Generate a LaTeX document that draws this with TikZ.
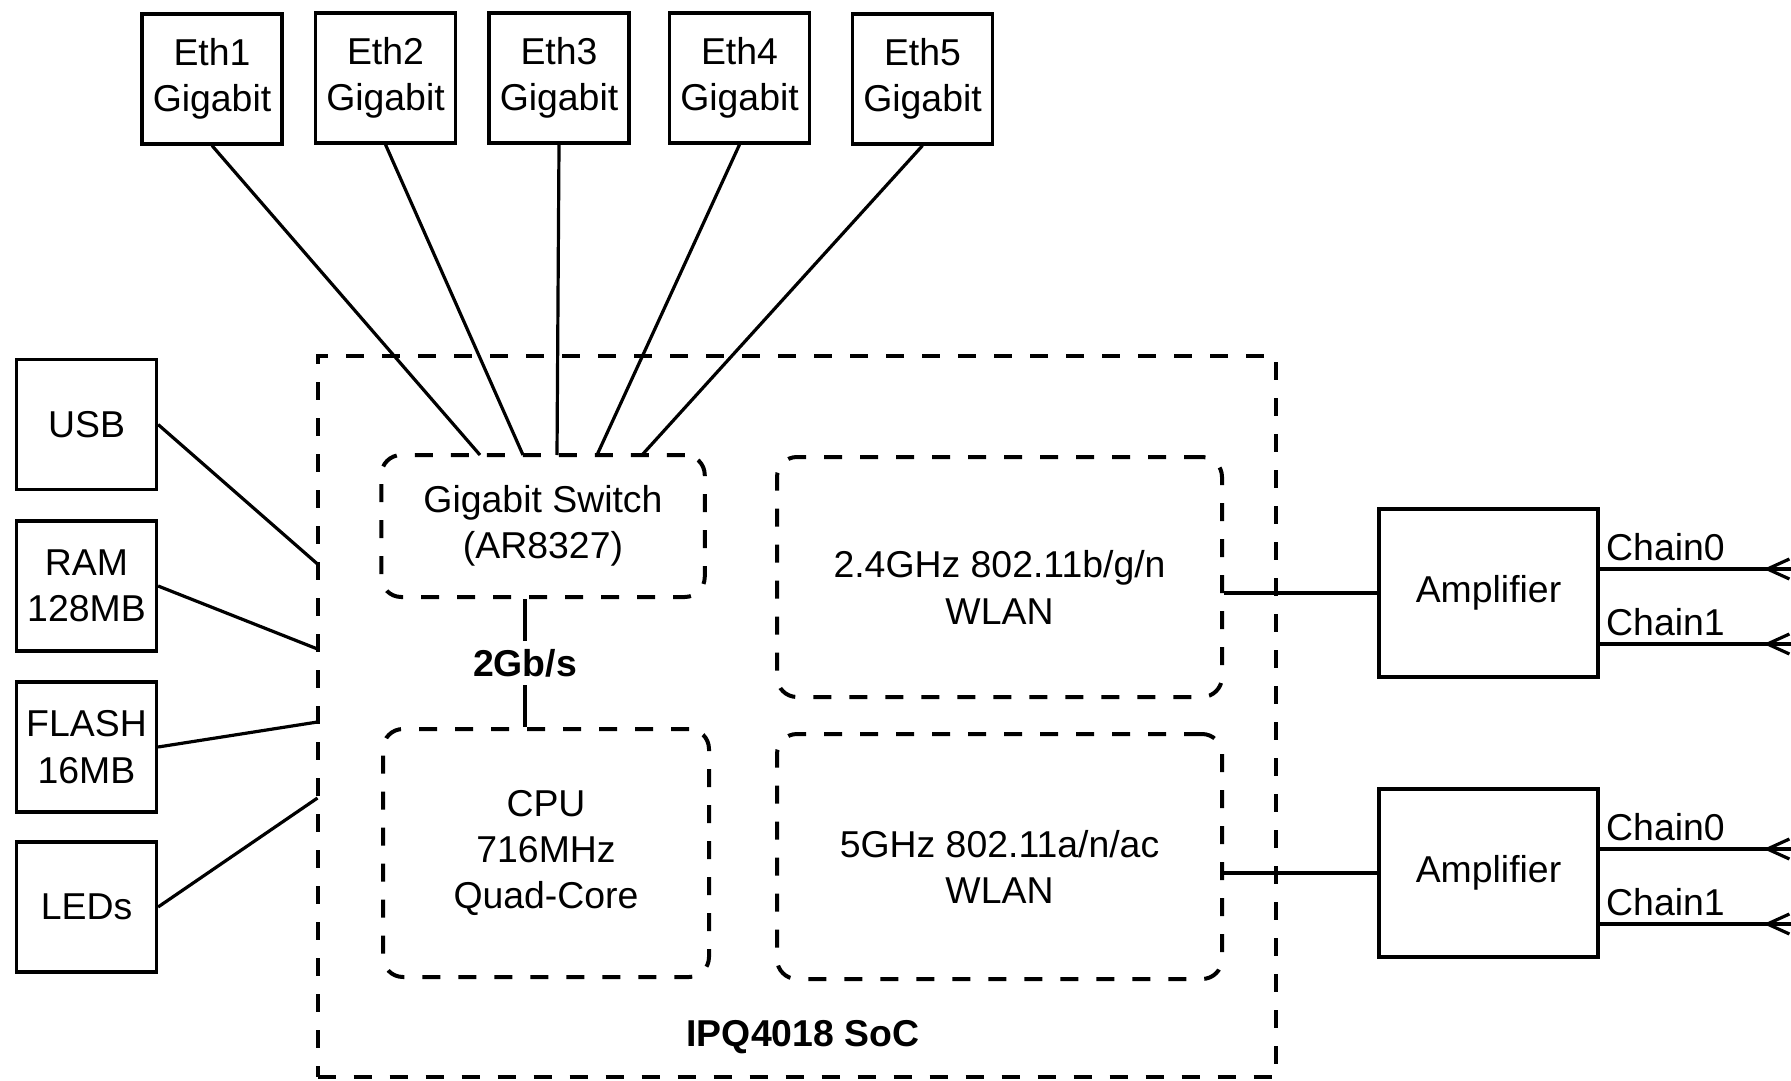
\documentclass[tikz,border=0pt]{standalone}
\usepackage{fontspec}
\setmainfont{Liberation Sans}
\usetikzlibrary{arrows.meta}

\newcommand{\lift}{\rule{0pt}{24pt}}

\tikzset{
  blk/.style={draw, line width=1.6pt, align=center, inner sep=2pt,
    font=\fontsize{18.7}{23.2}\selectfont, minimum width=70pt, minimum height=65pt},
  unitbox/.style={draw, line width=2pt, dash pattern=on 9pt off 9pt, rounded corners=10pt,
    align=center, font=\fontsize{18.7}{23.2}\selectfont},
  socbox/.style={draw, line width=2pt, dash pattern=on 9pt off 9pt},
  wire/.style={line width=1.6pt},
  tag/.style={font=\fontsize{18.7}{23.2}\selectfont\bfseries},
  chainlbl/.style={above right, inner xsep=2.5pt, inner ysep=3.5pt, font=\fontsize{18.7}{23.2}\selectfont},
  fork/.style={wire, -{Straight Barb[reversed, length=11pt, width=10pt]}},
}

\begin{document}
\begin{tikzpicture}[x=0.5pt, y=-0.5pt]
    \useasboundingbox (0,0) rectangle (1791,1080);

    % ports on top
    \node[blk] (eth1) at (212,79) {Eth1\\Gigabit};
    \node[blk] (eth2) at (385.5,78) {Eth2\\Gigabit};
    \node[blk] (eth3) at (559,78) {Eth3\\Gigabit};
    \node[blk] (eth4) at (739.5,78) {Eth4\\Gigabit};
    \node[blk] (eth5) at (922.5,79) {Eth5\\Gigabit};

    % peripherals on the left
    \node[blk] (usb) at (86.5,424.5) {USB};
    \node[blk] (ram) at (86.5,586) {RAM\\128MB};
    \node[blk] (flash) at (86.5,747) {FLASH\\16MB};
    \node[blk] (leds) at (86.5,907) {LEDs};

    % the SoC
    \node[socbox, minimum width=479.25pt, minimum height=360.5pt] (soc) at (796.75,716.5) {};
    \node[tag] (socname) at (803,1037) {IPQ4018 SoC};
    \node[unitbox, minimum width=161.75pt, minimum height=71pt] (switch) at (543,526) {Gigabit Switch\\(AR8327)};
    \node[unitbox, minimum width=163pt, minimum height=124pt] (cpu) at (546,853) {CPU\\716MHz\\Quad-Core};
    \node[unitbox, minimum width=222.5pt, minimum height=120pt] (wlana) at (999.5,577) {\lift2.4GHz 802.11b/g/n\\WLAN};
    \node[unitbox, minimum width=222.5pt, minimum height=122.5pt] (wlanb) at (999.5,856.5) {\lift5GHz 802.11a/n/ac\\WLAN};

    % amplifiers
    \node[blk, minimum width=109.5pt, minimum height=84pt] (ampa) at (1488.5,593) {Amplifier};
    \node[blk, minimum width=109.5pt, minimum height=84pt] (ampb) at (1488.5,873) {Amplifier};

    % ethernet lines into the switch
    \foreach \i/\x in {1/480, 2/523, 3/557, 4/597, 5/642} {
        \coordinate (sw\i) at (\x,455);
        \draw[wire] (eth\i.south) -- (sw\i);
    }

    % peripherals into the SoC
    \foreach \n/\y in {usb/564, ram/649, flash/722, leds/798} {
        \coordinate (\n-in) at (317.5,\y);
        \draw[wire] (\n.east) -- (\n-in);
    }

    \coordinate (lnk) at (525,0);
    \draw[wire] (switch.south -| lnk) -- node[tag, fill=white, inner xsep=1pt, inner ysep=4pt] {2Gb/s} (cpu.north -| lnk);

    \draw[wire] (ampa.west) -- (ampa.west -| wlana.east);
    \draw[wire] (ampb.west) -- (ampb.west -| wlanb.east);

    % antenna chains
    \foreach \amp/\ya/\yb in {ampa/569/644, ampb/849/924} {
        \coordinate (\amp-c0) at (1791,\ya);
        \coordinate (\amp-c1) at (1791,\yb);
        \draw[wire] (\amp.east |- \amp-c0) node[chainlbl] {Chain0} -- (\amp-c0);
        \draw[wire] (\amp.east |- \amp-c1) node[chainlbl] {Chain1} -- (\amp-c1);
        \draw[fork] (\amp.east |- \amp-c0) -- (\amp-c0);
        \draw[fork] (\amp.east |- \amp-c1) -- (\amp-c1);
    }
\end{tikzpicture}
\end{document}
